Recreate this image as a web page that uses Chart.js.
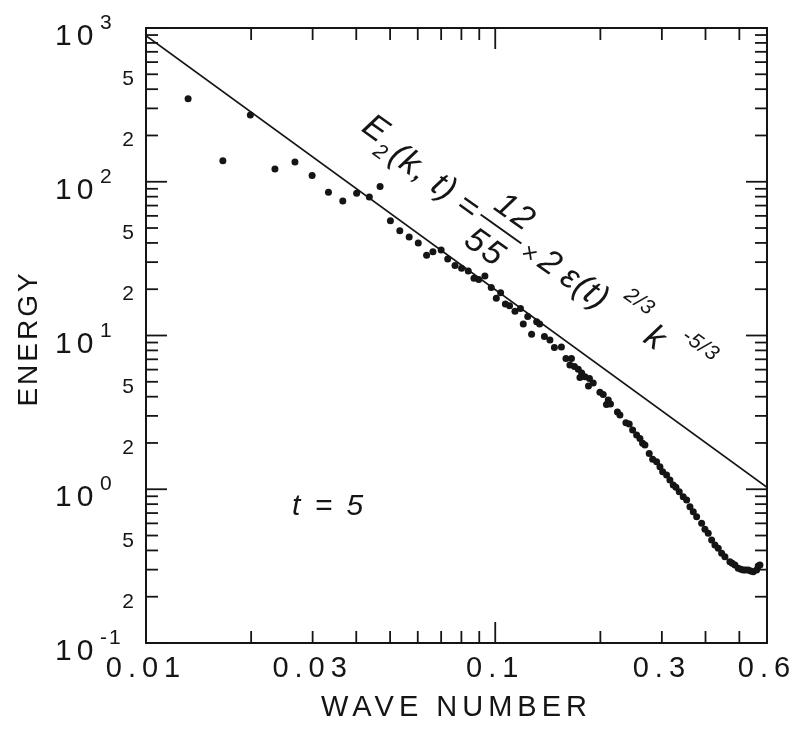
<!doctype html>
<html lang="en">
<head>
  <meta charset="utf-8">
  <title>Energy spectrum</title>
  <style>
    * { margin: 0; padding: 0; }
    body { background: #fff; }
    canvas { display: block; }
  </style>
</head>
<body>
  <canvas id="myChart" width="800" height="734"></canvas>
  <script src="https://cdn.jsdelivr.net/npm/chart.js/dist/chart.umd.min.js"></script>
  <script>
    // measured spectrum points (wave number, energy)
    const waveNumber = [
      0.0132, 0.0166, 0.0199, 0.0234, 0.0267, 0.0299, 0.0333, 0.0366, 0.0401, 0.0436, 0.0468,
      0.0501, 0.0533, 0.0567, 0.0602, 0.0636, 0.0663, 0.0700, 0.0731, 0.0767, 0.0801,
      0.0837, 0.0869, 0.0897, 0.0934, 0.0974, 0.1007, 0.1036, 0.1069, 0.1099, 0.1139,
      0.1181, 0.1203, 0.1239, 0.1271, 0.1314, 0.1340,
      0.1383, 0.1434, 0.1477, 0.1547, 0.1594, 0.1653, 0.1636, 0.1686, 0.1729, 0.1768,
      0.1748, 0.1807, 0.1861, 0.1849, 0.1908, 0.1994, 0.2038, 0.2082, 0.2107, 0.2138,
      0.2238, 0.2275,
      0.2367, 0.2419, 0.2474, 0.2540, 0.2596, 0.2642, 0.2683, 0.2760, 0.2823, 0.2898,
      0.2962, 0.3015, 0.3095, 0.3163, 0.3233, 0.3291, 0.3364, 0.3453, 0.3532, 0.3610,
      0.3690, 0.3773, 0.3899, 0.3985, 0.4073, 0.4165, 0.4256, 0.4350, 0.4449, 0.4546,
      0.4698, 0.4770, 0.4856, 0.4963, 0.5050, 0.5129, 0.5210, 0.5301, 0.5390, 0.5478,
      0.5603, 0.5662, 0.5726
    ];
    const energy = [
      347, 137, 272, 121, 134.5, 110, 85.4, 75, 84.1, 79.6, 93.2,
      55.8, 48.0, 43.7, 40.0, 33.3, 35.0, 36.0, 31.4, 28.5, 27.4,
      26.3, 23.6, 23.1, 24.4, 20.5, 17.5, 19.0, 16.0, 15.6, 14.4,
      15.0, 11.9, 13.3, 10.2, 12.3, 11.9,
      9.85, 9.35, 8.36, 8.42, 7.09, 7.09, 6.43, 6.29, 6.03, 5.70,
      5.33, 5.40, 5.25, 4.69, 4.91, 4.28, 4.13, 3.56, 3.81, 3.58,
      3.18, 3.04,
      2.71, 2.66, 2.43, 2.25, 2.14, 1.99, 1.94, 1.71, 1.566, 1.511,
      1.402, 1.300, 1.238, 1.149, 1.066, 1.030, 0.964, 0.894, 0.851, 0.770,
      0.715, 0.663, 0.600, 0.549, 0.517, 0.468, 0.434, 0.413, 0.383, 0.364,
      0.338, 0.330, 0.322, 0.306, 0.302, 0.298, 0.298, 0.298, 0.294, 0.291,
      0.298, 0.317, 0.322
    ];

    // k^-5/3 reference line end points
    const lineK = [0.01, 0.6];
    const lineE = [890, 1.03];

    // axis ticks and labels
    const xLabelValues = [0.01, 0.03, 0.1, 0.3, 0.6];
    const xLabelText = ['0.01', '0.03', '0.1', '0.3', '0.6'];
    const yMajorValues = [1000, 100, 10, 1, 0.1];
    const yMajorExp = ['3', '2', '1', '0', '-1'];
    const yMinorValues = [500, 200, 50, 20, 5, 2, 0.5, 0.2];
    const yMinorText = ['5', '2', '5', '2', '5', '2', '5', '2'];

    const ink = '#151515';

    function drawText(ctx, text, x, y, font, spacing, align) {
      ctx.font = font;
      ctx.letterSpacing = (spacing || 0) + 'px';
      ctx.textAlign = align || 'left';
      ctx.fillText(text, x, y);
      ctx.letterSpacing = '0px';
    }

    const frame = {
      id: 'frame',
      afterDraw(chart) {
        const { ctx, chartArea: { left, right, top, bottom } } = chart;
        const xs = chart.scales.x;
        const ys = chart.scales.y;
        ctx.save();
        ctx.strokeStyle = ink;
        ctx.fillStyle = ink;
        ctx.lineWidth = 2;
        ctx.strokeRect(left, top, right - left, bottom - top);

        ctx.lineWidth = 1.8;
        const seg = (x1, y1, x2, y2) => {
          ctx.beginPath();
          ctx.moveTo(x1, y1);
          ctx.lineTo(x2, y2);
          ctx.stroke();
        };
        // y ticks, left and right
        for (let e = -1; e <= 3; e++) {
          const y = ys.getPixelForValue(Math.pow(10, e));
          seg(left, y, left + 21, y);
          seg(right, y, right - 21, y);
          if (e < 3) {
            for (let m = 2; m <= 9; m++) {
              const ym = ys.getPixelForValue(m * Math.pow(10, e));
              seg(left, ym, left + 12, ym);
              seg(right, ym, right - 12, ym);
            }
          }
        }
        // x ticks, bottom and top
        for (let e = -2; e <= -1; e++) {
          const xd = xs.getPixelForValue(Math.pow(10, e));
          if (e === -1) {
            seg(xd, bottom, xd, bottom - 21);
            seg(xd, top, xd, top + 21);
          }
          for (let m = 2; m <= 9; m++) {
            const v = m * Math.pow(10, e);
            if (v >= 0.6) break;
            const xm = xs.getPixelForValue(v);
            seg(xm, bottom, xm, bottom - 12);
            seg(xm, top, xm, top + 12);
          }
        }

        // tick labels
        ctx.textBaseline = 'alphabetic';
        xLabelValues.forEach((v, i) => {
          drawText(ctx, xLabelText[i], xs.getPixelForValue(v), 677, '29px "Liberation Sans"', 6, 'center');
        });
        yMajorValues.forEach((v, i) => {
          const y = ys.getPixelForValue(v);
          drawText(ctx, '10', 55, y + 17, '30px "Liberation Sans"', 5, 'left');
          drawText(ctx, yMajorExp[i], 100, y + 1, '21px "Liberation Sans"', 2, 'left');
        });
        yMinorValues.forEach((v, i) => {
          drawText(ctx, yMinorText[i], 128, ys.getPixelForValue(v) + 11, '21px "Liberation Sans"', 0, 'center');
        });

        // axis titles
        drawText(ctx, 'WAVE NUMBER', (left + right) / 2, 716, '29px "Liberation Sans"', 5, 'center');
        ctx.save();
        ctx.translate(37, (top + bottom) / 2 + 3);
        ctx.rotate(-Math.PI / 2);
        drawText(ctx, 'ENERGY', 0, 0, '28px "Liberation Sans"', 3, 'center');
        ctx.restore();

        // t = 5
        drawText(ctx, 't = 5', 292, 515, 'italic 30px "Liberation Sans"', 3, 'left');

        // formula along the reference line
        ctx.save();
        ctx.translate(501, 229);
        ctx.rotate(35.5 * Math.PI / 180);
        ctx.textBaseline = 'middle';
        const big = 'italic 34px "Liberation Sans"';
        const small = 'italic 21px "Liberation Sans"';
        drawText(ctx, 'E', -172, -8, big, 0, 'left');
        drawText(ctx, '2', -149, 8, small, 0, 'left');
        drawText(ctx, '(k, t)', -133, 0, big, 1, 'left');
        drawText(ctx, '=', -40, 2, big, 0, 'center');
        drawText(ctx, '12', 2, -21, big, 2, 'center');
        drawText(ctx, '55', -2, 25, big, 2, 'center');
        ctx.lineWidth = 2;
        seg(-25, 0, 25, 0);
        drawText(ctx, '×', 37, 4, 'italic 25px "Liberation Sans"', 0, 'center');
        drawText(ctx, '2', 50, 0, big, 0, 'left');
        drawText(ctx, 'ε(t)', 77, 0, big, 1, 'left');
        drawText(ctx, '2/3', 139, -21, small, 1, 'left');
        drawText(ctx, 'k', 180, 0, big, 0, 'left');
        drawText(ctx, '-5/3', 210, -21, small, 1, 'left');
        ctx.restore();

        ctx.restore();
      }
    };

    const points = waveNumber.map((k, i) => ({ x: k, y: energy[i] }));
    const linePts = lineK.map((k, i) => ({ x: k, y: lineE[i] }));

    const ctx = document.getElementById('myChart');
    const myChart = new Chart(ctx, {
      type: 'scatter',
      data: {
        datasets: [
          {
            data: points,
            pointRadius: 3.5,
            pointBorderWidth: 0,
            pointBackgroundColor: ink,
            showLine: false
          },
          {
            data: linePts,
            showLine: true,
            borderColor: ink,
            borderWidth: 1.7,
            pointRadius: 0
          }
        ]
      },
      options: {
        responsive: false,
        animation: false,
        devicePixelRatio: 1,
        layout: { padding: { left: 146, right: 33, top: 28, bottom: 91 } },
        plugins: { legend: { display: false }, tooltip: { enabled: false } },
        scales: {
          x: { type: 'logarithmic', min: 0.01, max: 0.6, display: false },
          y: { type: 'logarithmic', min: 0.1, max: 1000, display: false }
        }
      },
      plugins: [frame]
    });
  </script>
</body>
</html>
